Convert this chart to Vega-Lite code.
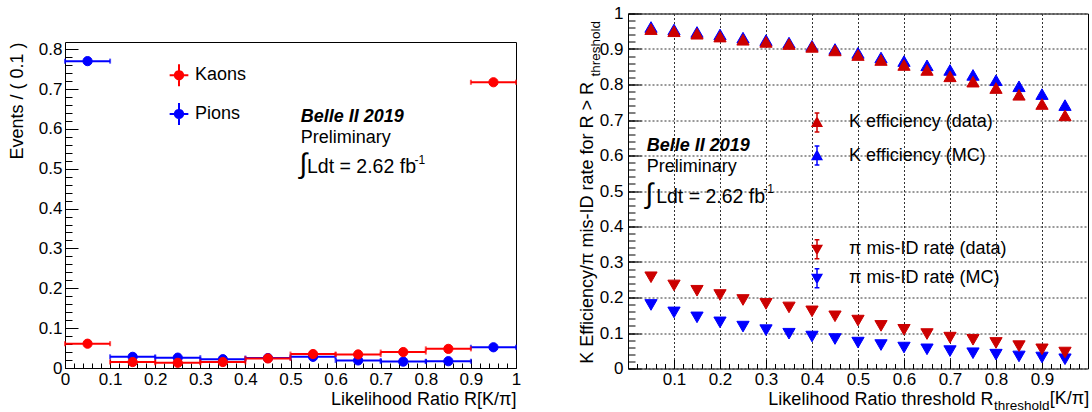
{
  "$schema": "https://vega.github.io/schema/vega-lite/v6.json",
  "background": "white",
  "padding": {"left": 7, "top": 3.5, "right": 5, "bottom": 0},
  "spacing": 55,
  "config": {
    "font": "Liberation Sans",
    "view": {"stroke": "black", "strokeWidth": 1, "fill": "white"},
    "axis": {"labelFont": "Liberation Sans", "titleFont": "Liberation Sans", "labelColor": "black", "titleColor": "black", "tickColor": "black", "titleFontWeight": "normal", "labelFontSize": 17, "titleFontSize": 18, "domain": false, "labelFlush": false, "labelOverlap": false, "tickWidth": 1, "grid": false},
    "legend": {"labelFont": "Liberation Sans", "labelFontSize": 18, "labelColor": "black", "padding": 0},
    "text": {"font": "Liberation Sans", "color": "black"}
  },
  "datasets": {
    "left": [
      {"particle": "Pions", "x": 0.05, "lo": 0.0, "hi": 0.1, "y": 0.770},
      {"particle": "Pions", "x": 0.15, "lo": 0.1, "hi": 0.2, "y": 0.028},
      {"particle": "Pions", "x": 0.25, "lo": 0.2, "hi": 0.3, "y": 0.026},
      {"particle": "Pions", "x": 0.35, "lo": 0.3, "hi": 0.4, "y": 0.022},
      {"particle": "Pions", "x": 0.45, "lo": 0.4, "hi": 0.5, "y": 0.025},
      {"particle": "Pions", "x": 0.55, "lo": 0.5, "hi": 0.6, "y": 0.028},
      {"particle": "Pions", "x": 0.65, "lo": 0.6, "hi": 0.7, "y": 0.019},
      {"particle": "Pions", "x": 0.75, "lo": 0.7, "hi": 0.8, "y": 0.016},
      {"particle": "Pions", "x": 0.85, "lo": 0.8, "hi": 0.9, "y": 0.017},
      {"particle": "Pions", "x": 0.95, "lo": 0.9, "hi": 1.0, "y": 0.052},
      {"particle": "Kaons", "x": 0.05, "lo": 0.0, "hi": 0.1, "y": 0.061},
      {"particle": "Kaons", "x": 0.15, "lo": 0.1, "hi": 0.2, "y": 0.015},
      {"particle": "Kaons", "x": 0.25, "lo": 0.2, "hi": 0.3, "y": 0.013},
      {"particle": "Kaons", "x": 0.35, "lo": 0.3, "hi": 0.4, "y": 0.015},
      {"particle": "Kaons", "x": 0.45, "lo": 0.4, "hi": 0.5, "y": 0.024},
      {"particle": "Kaons", "x": 0.55, "lo": 0.5, "hi": 0.6, "y": 0.035},
      {"particle": "Kaons", "x": 0.65, "lo": 0.6, "hi": 0.7, "y": 0.034},
      {"particle": "Kaons", "x": 0.75, "lo": 0.7, "hi": 0.8, "y": 0.040},
      {"particle": "Kaons", "x": 0.85, "lo": 0.8, "hi": 0.9, "y": 0.048},
      {"particle": "Kaons", "x": 0.95, "lo": 0.9, "hi": 1.0, "y": 0.717}
    ],
    "right": [
      {"kind": "eff", "series": "K efficiency (MC)", "x": 0.05, "y": 0.962},
      {"kind": "eff", "series": "K efficiency (MC)", "x": 0.10, "y": 0.955},
      {"kind": "eff", "series": "K efficiency (MC)", "x": 0.15, "y": 0.948},
      {"kind": "eff", "series": "K efficiency (MC)", "x": 0.20, "y": 0.941},
      {"kind": "eff", "series": "K efficiency (MC)", "x": 0.25, "y": 0.932},
      {"kind": "eff", "series": "K efficiency (MC)", "x": 0.30, "y": 0.925},
      {"kind": "eff", "series": "K efficiency (MC)", "x": 0.35, "y": 0.918},
      {"kind": "eff", "series": "K efficiency (MC)", "x": 0.40, "y": 0.909},
      {"kind": "eff", "series": "K efficiency (MC)", "x": 0.45, "y": 0.900},
      {"kind": "eff", "series": "K efficiency (MC)", "x": 0.50, "y": 0.889},
      {"kind": "eff", "series": "K efficiency (MC)", "x": 0.55, "y": 0.876},
      {"kind": "eff", "series": "K efficiency (MC)", "x": 0.60, "y": 0.866},
      {"kind": "eff", "series": "K efficiency (MC)", "x": 0.65, "y": 0.854},
      {"kind": "eff", "series": "K efficiency (MC)", "x": 0.70, "y": 0.841},
      {"kind": "eff", "series": "K efficiency (MC)", "x": 0.75, "y": 0.827},
      {"kind": "eff", "series": "K efficiency (MC)", "x": 0.80, "y": 0.812},
      {"kind": "eff", "series": "K efficiency (MC)", "x": 0.85, "y": 0.795},
      {"kind": "eff", "series": "K efficiency (MC)", "x": 0.90, "y": 0.773},
      {"kind": "eff", "series": "K efficiency (MC)", "x": 0.95, "y": 0.742},
      {"kind": "eff", "series": "K efficiency (data)", "x": 0.05, "y": 0.956},
      {"kind": "eff", "series": "K efficiency (data)", "x": 0.10, "y": 0.950},
      {"kind": "eff", "series": "K efficiency (data)", "x": 0.15, "y": 0.943},
      {"kind": "eff", "series": "K efficiency (data)", "x": 0.20, "y": 0.935},
      {"kind": "eff", "series": "K efficiency (data)", "x": 0.25, "y": 0.926},
      {"kind": "eff", "series": "K efficiency (data)", "x": 0.30, "y": 0.920},
      {"kind": "eff", "series": "K efficiency (data)", "x": 0.35, "y": 0.914},
      {"kind": "eff", "series": "K efficiency (data)", "x": 0.40, "y": 0.906},
      {"kind": "eff", "series": "K efficiency (data)", "x": 0.45, "y": 0.896},
      {"kind": "eff", "series": "K efficiency (data)", "x": 0.50, "y": 0.883},
      {"kind": "eff", "series": "K efficiency (data)", "x": 0.55, "y": 0.869},
      {"kind": "eff", "series": "K efficiency (data)", "x": 0.60, "y": 0.855},
      {"kind": "eff", "series": "K efficiency (data)", "x": 0.65, "y": 0.841},
      {"kind": "eff", "series": "K efficiency (data)", "x": 0.70, "y": 0.823},
      {"kind": "eff", "series": "K efficiency (data)", "x": 0.75, "y": 0.808},
      {"kind": "eff", "series": "K efficiency (data)", "x": 0.80, "y": 0.790},
      {"kind": "eff", "series": "K efficiency (data)", "x": 0.85, "y": 0.771},
      {"kind": "eff", "series": "K efficiency (data)", "x": 0.90, "y": 0.745},
      {"kind": "eff", "series": "K efficiency (data)", "x": 0.95, "y": 0.713},
      {"kind": "mis", "series": "π mis-ID rate (MC)", "x": 0.05, "y": 0.179},
      {"kind": "mis", "series": "π mis-ID rate (MC)", "x": 0.10, "y": 0.158},
      {"kind": "mis", "series": "π mis-ID rate (MC)", "x": 0.15, "y": 0.144},
      {"kind": "mis", "series": "π mis-ID rate (MC)", "x": 0.20, "y": 0.130},
      {"kind": "mis", "series": "π mis-ID rate (MC)", "x": 0.25, "y": 0.118},
      {"kind": "mis", "series": "π mis-ID rate (MC)", "x": 0.30, "y": 0.108},
      {"kind": "mis", "series": "π mis-ID rate (MC)", "x": 0.35, "y": 0.098},
      {"kind": "mis", "series": "π mis-ID rate (MC)", "x": 0.40, "y": 0.090},
      {"kind": "mis", "series": "π mis-ID rate (MC)", "x": 0.45, "y": 0.083},
      {"kind": "mis", "series": "π mis-ID rate (MC)", "x": 0.50, "y": 0.073},
      {"kind": "mis", "series": "π mis-ID rate (MC)", "x": 0.55, "y": 0.066},
      {"kind": "mis", "series": "π mis-ID rate (MC)", "x": 0.60, "y": 0.059},
      {"kind": "mis", "series": "π mis-ID rate (MC)", "x": 0.65, "y": 0.054},
      {"kind": "mis", "series": "π mis-ID rate (MC)", "x": 0.70, "y": 0.049},
      {"kind": "mis", "series": "π mis-ID rate (MC)", "x": 0.75, "y": 0.043},
      {"kind": "mis", "series": "π mis-ID rate (MC)", "x": 0.80, "y": 0.039},
      {"kind": "mis", "series": "π mis-ID rate (MC)", "x": 0.85, "y": 0.034},
      {"kind": "mis", "series": "π mis-ID rate (MC)", "x": 0.90, "y": 0.031},
      {"kind": "mis", "series": "π mis-ID rate (MC)", "x": 0.95, "y": 0.026},
      {"kind": "mis", "series": "π mis-ID rate (data)", "x": 0.05, "y": 0.257},
      {"kind": "mis", "series": "π mis-ID rate (data)", "x": 0.10, "y": 0.234},
      {"kind": "mis", "series": "π mis-ID rate (data)", "x": 0.15, "y": 0.219},
      {"kind": "mis", "series": "π mis-ID rate (data)", "x": 0.20, "y": 0.207},
      {"kind": "mis", "series": "π mis-ID rate (data)", "x": 0.25, "y": 0.193},
      {"kind": "mis", "series": "π mis-ID rate (data)", "x": 0.30, "y": 0.182},
      {"kind": "mis", "series": "π mis-ID rate (data)", "x": 0.35, "y": 0.172},
      {"kind": "mis", "series": "π mis-ID rate (data)", "x": 0.40, "y": 0.161},
      {"kind": "mis", "series": "π mis-ID rate (data)", "x": 0.45, "y": 0.147},
      {"kind": "mis", "series": "π mis-ID rate (data)", "x": 0.50, "y": 0.135},
      {"kind": "mis", "series": "π mis-ID rate (data)", "x": 0.55, "y": 0.120},
      {"kind": "mis", "series": "π mis-ID rate (data)", "x": 0.60, "y": 0.109},
      {"kind": "mis", "series": "π mis-ID rate (data)", "x": 0.65, "y": 0.097},
      {"kind": "mis", "series": "π mis-ID rate (data)", "x": 0.70, "y": 0.087},
      {"kind": "mis", "series": "π mis-ID rate (data)", "x": 0.75, "y": 0.081},
      {"kind": "mis", "series": "π mis-ID rate (data)", "x": 0.80, "y": 0.072},
      {"kind": "mis", "series": "π mis-ID rate (data)", "x": 0.85, "y": 0.063},
      {"kind": "mis", "series": "π mis-ID rate (data)", "x": 0.90, "y": 0.054},
      {"kind": "mis", "series": "π mis-ID rate (data)", "x": 0.95, "y": 0.045}
    ]
  },
  "hconcat": [
    {
      "spacing": 21.5,
      "vconcat": [
        {
          "width": 451,
          "height": 1,
          "data": {"values": [{}]},
          "mark": {"type": "point", "opacity": 0},
          "encoding": {},
          "view": {"stroke": null, "fill": null}
        },
        {
          "width": 451,
          "height": 326,
          "data": {"name": "left"},
          "resolve": {"axis": {"x": "independent", "y": "independent"}},
          "layer": [
            {
              "mark": {"type": "point", "opacity": 0},
              "encoding": {
                "x": {"field": "x", "type": "quantitative", "scale": {"domain": [0, 1], "nice": false, "zero": false},
                  "axis": {"values": [0,0.02,0.04,0.06,0.08,0.1,0.12,0.14,0.16,0.18,0.2,0.22,0.24,0.26,0.28,0.3,0.32,0.34,0.36,0.38,0.4,0.42,0.44,0.46,0.48,0.5,0.52,0.54,0.56,0.58,0.6,0.62,0.64,0.66,0.68,0.7,0.72,0.74,0.76,0.78,0.8,0.82,0.84,0.86,0.88,0.9,0.92,0.94,0.96,0.98,1], "labels": false, "tickSize": -5, "title": null, "orient": "bottom"}},
                "y": {"field": "y", "type": "quantitative", "scale": {"domain": [0, 0.818], "nice": false, "zero": false},
                  "axis": {"values": [0,0.02,0.04,0.06,0.08,0.1,0.12,0.14,0.16,0.18,0.2,0.22,0.24,0.26,0.28,0.3,0.32,0.34,0.36,0.38,0.4,0.42,0.44,0.46,0.48,0.5,0.52,0.54,0.56,0.58,0.6,0.62,0.64,0.66,0.68,0.7,0.72,0.74,0.76,0.78,0.8], "labels": false, "tickSize": -7, "title": null, "orient": "left"}}
              }
            },
            {
              "transform": [{"filter": "datum.particle == 'Pions'"}],
              "mark": {"type": "rule", "strokeWidth": 2, "color": "#0000ff"},
              "encoding": {
                "x": {"field": "lo", "type": "quantitative", "axis": null},
                "x2": {"field": "hi"},
                "y": {"field": "y", "type": "quantitative", "axis": null}
              }
            },
            {
              "transform": [{"filter": "datum.particle == 'Pions'"}],
              "mark": {"type": "tick", "orient": "vertical", "size": 5, "thickness": 2, "color": "#0000ff"},
              "encoding": {
                "x": {"field": "lo", "type": "quantitative", "axis": null},
                "y": {"field": "y", "type": "quantitative", "axis": null}
              }
            },
            {
              "transform": [{"filter": "datum.particle == 'Pions'"}],
              "mark": {"type": "tick", "orient": "vertical", "size": 5, "thickness": 2, "color": "#0000ff"},
              "encoding": {
                "x": {"field": "hi", "type": "quantitative", "axis": null},
                "y": {"field": "y", "type": "quantitative", "axis": null}
              }
            },
            {
              "transform": [{"filter": "datum.particle == 'Kaons'"}],
              "mark": {"type": "rule", "strokeWidth": 2, "color": "#ff0000"},
              "encoding": {
                "x": {"field": "lo", "type": "quantitative", "axis": null},
                "x2": {"field": "hi"},
                "y": {"field": "y", "type": "quantitative", "axis": null}
              }
            },
            {
              "transform": [{"filter": "datum.particle == 'Kaons'"}],
              "mark": {"type": "tick", "orient": "vertical", "size": 5, "thickness": 2, "color": "#ff0000"},
              "encoding": {
                "x": {"field": "lo", "type": "quantitative", "axis": null},
                "y": {"field": "y", "type": "quantitative", "axis": null}
              }
            },
            {
              "transform": [{"filter": "datum.particle == 'Kaons'"}],
              "mark": {"type": "tick", "orient": "vertical", "size": 5, "thickness": 2, "color": "#ff0000"},
              "encoding": {
                "x": {"field": "hi", "type": "quantitative", "axis": null},
                "y": {"field": "y", "type": "quantitative", "axis": null}
              }
            },
            {
              "mark": {"type": "point", "shape": "circle", "filled": true, "size": 85, "opacity": 1, "strokeWidth": 1},
              "encoding": {
                "x": {"field": "x", "type": "quantitative",
                  "axis": {"values": [0,0.1,0.2,0.3,0.4,0.5,0.6,0.7,0.8,0.9,1], "format": ".1~f", "tickSize": -9, "labelPadding": 12, "orient": "bottom",
                    "title": "Likelihood Ratio R[K/π]", "titleAnchor": "end", "titleY": 31, "titleBaseline": "middle"}},
                "y": {"field": "y", "type": "quantitative",
                  "axis": {"values": [0,0.1,0.2,0.3,0.4,0.5,0.6,0.7,0.8], "format": ".1~f", "tickSize": -13, "labelPadding": 16, "orient": "left",
                    "title": "Events / ( 0.1 )", "titleAnchor": "end", "titleAlign": "right", "titlePadding": 12}},
                "fill": {"field": "particle", "type": "nominal", "scale": {"domain": ["Kaons", "Pions"], "range": ["#ff0000", "#0000ff"]},
                  "legend": {"title": null, "orient": "none", "legendX": 102, "legendY": 49.7, "symbolType": "M0.38,0A0.38,0.38 0 1,1 -0.38,0A0.38,0.38 0 1,1 0.38,0Z M-0.85,0H0.85 M0,-1V1", "symbolSize": 484, "symbolStrokeWidth": 2, "labelFontSize": 18, "labelOffset": 4, "rowPadding": 8.7, "padding": 0}},
                "stroke": {"field": "particle", "type": "nominal", "scale": {"domain": ["Kaons", "Pions"], "range": ["#ff0000", "#0000ff"]},
                  "legend": {"title": null, "orient": "none", "legendX": 102, "legendY": 49.7, "symbolType": "M0.38,0A0.38,0.38 0 1,1 -0.38,0A0.38,0.38 0 1,1 0.38,0Z M-0.85,0H0.85 M0,-1V1", "symbolSize": 484, "symbolStrokeWidth": 2, "labelFontSize": 18, "labelOffset": 4, "rowPadding": 8.7, "padding": 0}}
              }
            },
            {
              "data": {"values": [{}]},
              "mark": {"type": "text", "text": "Belle II 2019", "fontSize": 18, "fontStyle": "italic", "fontWeight": "bold", "align": "left", "baseline": "middle"},
              "encoding": {"x": {"datum": 0.5226, "type": "quantitative", "axis": null}, "y": {"datum": 0.63, "type": "quantitative", "axis": null}}
            },
            {
              "data": {"values": [{}]},
              "mark": {"type": "text", "text": "Preliminary", "fontSize": 18, "align": "left", "baseline": "middle"},
              "encoding": {"x": {"datum": 0.5226, "type": "quantitative", "axis": null}, "y": {"datum": 0.578, "type": "quantitative", "axis": null}}
            },
            {
              "data": {"values": [{}]},
              "mark": {"type": "text", "text": "∫", "fontSize": 28, "align": "left", "baseline": "middle"},
              "encoding": {"x": {"datum": 0.52, "type": "quantitative", "axis": null}, "y": {"datum": 0.51, "type": "quantitative", "axis": null}}
            },
            {
              "data": {"values": [{}]},
              "mark": {"type": "text", "text": "Ldt = 2.62 fb", "fontSize": 19.5, "align": "left", "baseline": "middle"},
              "encoding": {"x": {"datum": 0.5366, "type": "quantitative", "axis": null}, "y": {"datum": 0.504, "type": "quantitative", "axis": null}}
            },
            {
              "data": {"values": [{}]},
              "mark": {"type": "text", "text": "-1", "fontSize": 12, "align": "left", "baseline": "middle"},
              "encoding": {"x": {"datum": 0.775, "type": "quantitative", "axis": null}, "y": {"datum": 0.522, "type": "quantitative", "axis": null}}
            }
          ]
        }
      ]
    },
    {
      "width": 460,
      "height": 355,
      "data": {"name": "right"},
      "resolve": {"scale": {"fill": "independent", "stroke": "independent"}, "axis": {"x": "independent", "y": "independent"}},
      "layer": [
        {
          "mark": {"type": "point", "opacity": 0},
          "encoding": {
            "x": {"field": "x", "type": "quantitative", "scale": {"domain": [0, 1], "nice": false, "zero": false},
              "axis": {"values": [0,0.02,0.04,0.06,0.08,0.1,0.12,0.14,0.16,0.18,0.2,0.22,0.24,0.26,0.28,0.3,0.32,0.34,0.36,0.38,0.4,0.42,0.44,0.46,0.48,0.5,0.52,0.54,0.56,0.58,0.6,0.62,0.64,0.66,0.68,0.7,0.72,0.74,0.76,0.78,0.8,0.82,0.84,0.86,0.88,0.9,0.92,0.94,0.96,0.98,1], "labels": false, "tickSize": -5, "title": null, "orient": "bottom"}},
            "y": {"field": "y", "type": "quantitative", "scale": {"domain": [0, 1], "nice": false, "zero": false},
              "axis": {"values": [0,0.02,0.04,0.06,0.08,0.1,0.12,0.14,0.16,0.18,0.2,0.22,0.24,0.26,0.28,0.3,0.32,0.34,0.36,0.38,0.4,0.42,0.44,0.46,0.48,0.5,0.52,0.54,0.56,0.58,0.6,0.62,0.64,0.66,0.68,0.7,0.72,0.74,0.76,0.78,0.8,0.82,0.84,0.86,0.88,0.9,0.92,0.94,0.96,0.98,1], "labels": false, "tickSize": -7, "title": null, "orient": "left"}}
          }
        },
        {
          "transform": [{"filter": "datum.kind == 'eff'"}],
          "mark": {"type": "point", "shape": "triangle-up", "filled": true, "size": 150, "opacity": 1, "strokeWidth": 1},
          "encoding": {
            "x": {"field": "x", "type": "quantitative",
              "axis": {"values": [0.1,0.2,0.3,0.4,0.5,0.6,0.7,0.8,0.9], "format": ".1~f", "tickSize": -9, "labelPadding": 12, "orient": "bottom",
                "grid": true, "gridDash": [2, 2], "gridColor": "#333333", "gridWidth": 1,
                "title": "Likelihood Ratio threshold R", "titleAnchor": "end", "titleAlign": "right", "titleX": 365, "titleY": 31, "titleBaseline": "middle"}},
            "y": {"field": "y", "type": "quantitative",
              "axis": {"values": [0,0.1,0.2,0.3,0.4,0.5,0.6,0.7,0.8,0.9,1], "format": ".1~f", "tickSize": -13, "labelPadding": 18, "orient": "left",
                "grid": true, "gridDash": [2, 2], "gridColor": "#333333", "gridWidth": 1,
                "title": "K Efficiency/π mis-ID rate for R > R", "titleAnchor": "end", "titleAlign": "right", "titleY": 68, "titlePadding": 3}},
            "fill": {"field": "series", "type": "nominal", "scale": {"domain": ["K efficiency (data)", "K efficiency (MC)"], "range": ["#cc0000", "#0000ff"]},
              "legend": {"title": null, "orient": "none", "legendX": 178.5, "legendY": 98.4, "symbolType": "M0,-0.5L0.5,0.4L-0.5,0.4Z M0,-1V1 M-0.25,-1H0.25 M-0.25,1H0.25", "symbolSize": 361, "symbolStrokeWidth": 1.5, "labelFontSize": 18, "labelOffset": 21.5, "rowPadding": 8.2, "padding": 0}},
            "stroke": {"field": "series", "type": "nominal", "scale": {"domain": ["K efficiency (data)", "K efficiency (MC)"], "range": ["#cc0000", "#0000ff"]},
              "legend": {"title": null, "orient": "none", "legendX": 178.5, "legendY": 98.4, "symbolType": "M0,-0.5L0.5,0.4L-0.5,0.4Z M0,-1V1 M-0.25,-1H0.25 M-0.25,1H0.25", "symbolSize": 361, "symbolStrokeWidth": 1.5, "labelFontSize": 18, "labelOffset": 21.5, "rowPadding": 8.2, "padding": 0}}
          }
        },
        {
          "transform": [{"filter": "datum.kind == 'mis'"}],
          "mark": {"type": "point", "shape": "triangle-down", "filled": true, "size": 150, "opacity": 1, "strokeWidth": 1},
          "encoding": {
            "x": {"field": "x", "type": "quantitative", "axis": null},
            "y": {"field": "y", "type": "quantitative", "axis": null},
            "fill": {"field": "series", "type": "nominal", "scale": {"domain": ["π mis-ID rate (data)", "π mis-ID rate (MC)"], "range": ["#cc0000", "#0000ff"]},
              "legend": {"title": null, "orient": "none", "legendX": 178.5, "legendY": 225.2, "symbolType": "M0,0.5L0.5,-0.4L-0.5,-0.4Z M0,-1V1 M-0.25,-1H0.25 M-0.25,1H0.25", "symbolSize": 361, "symbolStrokeWidth": 1.5, "labelFontSize": 18, "labelOffset": 21.5, "rowPadding": 4, "padding": 0}},
            "stroke": {"field": "series", "type": "nominal", "scale": {"domain": ["π mis-ID rate (data)", "π mis-ID rate (MC)"], "range": ["#cc0000", "#0000ff"]},
              "legend": {"title": null, "orient": "none", "legendX": 178.5, "legendY": 225.2, "symbolType": "M0,0.5L0.5,-0.4L-0.5,-0.4Z M0,-1V1 M-0.25,-1H0.25 M-0.25,1H0.25", "symbolSize": 361, "symbolStrokeWidth": 1.5, "labelFontSize": 18, "labelOffset": 21.5, "rowPadding": 4, "padding": 0}}
          }
        },
        {
          "data": {"values": [{}]},
          "mark": {"type": "text", "text": "Belle II 2019", "fontSize": 18, "fontStyle": "italic", "fontWeight": "bold", "align": "left", "baseline": "middle"},
          "encoding": {"x": {"datum": 0.0407, "type": "quantitative", "axis": null}, "y": {"datum": 0.628, "type": "quantitative", "axis": null}}
        },
        {
          "data": {"values": [{}]},
          "mark": {"type": "text", "text": "Preliminary", "fontSize": 18, "align": "left", "baseline": "middle"},
          "encoding": {"x": {"datum": 0.0407, "type": "quantitative", "axis": null}, "y": {"datum": 0.567, "type": "quantitative", "axis": null}}
        },
        {
          "data": {"values": [{}]},
          "mark": {"type": "text", "text": "∫", "fontSize": 28, "align": "left", "baseline": "middle"},
          "encoding": {"x": {"datum": 0.038, "type": "quantitative", "axis": null}, "y": {"datum": 0.49, "type": "quantitative", "axis": null}}
        },
        {
          "data": {"values": [{}]},
          "mark": {"type": "text", "text": "Ldt = 2.62 fb", "fontSize": 19.5, "align": "left", "baseline": "middle"},
          "encoding": {"x": {"datum": 0.0612, "type": "quantitative", "axis": null}, "y": {"datum": 0.4845, "type": "quantitative", "axis": null}}
        },
        {
          "data": {"values": [{}]},
          "mark": {"type": "text", "text": "-1", "fontSize": 12, "align": "left", "baseline": "middle"},
          "encoding": {"x": {"datum": 0.294, "type": "quantitative", "axis": null}, "y": {"datum": 0.505, "type": "quantitative", "axis": null}}
        },
        {
          "data": {"values": [{}]},
          "mark": {"type": "text", "text": "threshold", "fontSize": 13.5, "angle": 270, "align": "left", "baseline": "middle"},
          "encoding": {"x": {"datum": -0.0696, "type": "quantitative", "axis": null}, "y": {"datum": 0.8225, "type": "quantitative", "axis": null}}
        },
        {
          "data": {"values": [{}]},
          "mark": {"type": "text", "text": "threshold", "fontSize": 13.5, "align": "left", "baseline": "middle"},
          "encoding": {"x": {"datum": 0.7957, "type": "quantitative", "axis": null}, "y": {"datum": -0.105, "type": "quantitative", "axis": null}}
        },
        {
          "data": {"values": [{}]},
          "mark": {"type": "text", "text": "[K/π]", "fontSize": 18, "align": "left", "baseline": "middle"},
          "encoding": {"x": {"datum": 0.917, "type": "quantitative", "axis": null}, "y": {"datum": -0.0873, "type": "quantitative", "axis": null}}
        }
      ]
    }
  ]
}
